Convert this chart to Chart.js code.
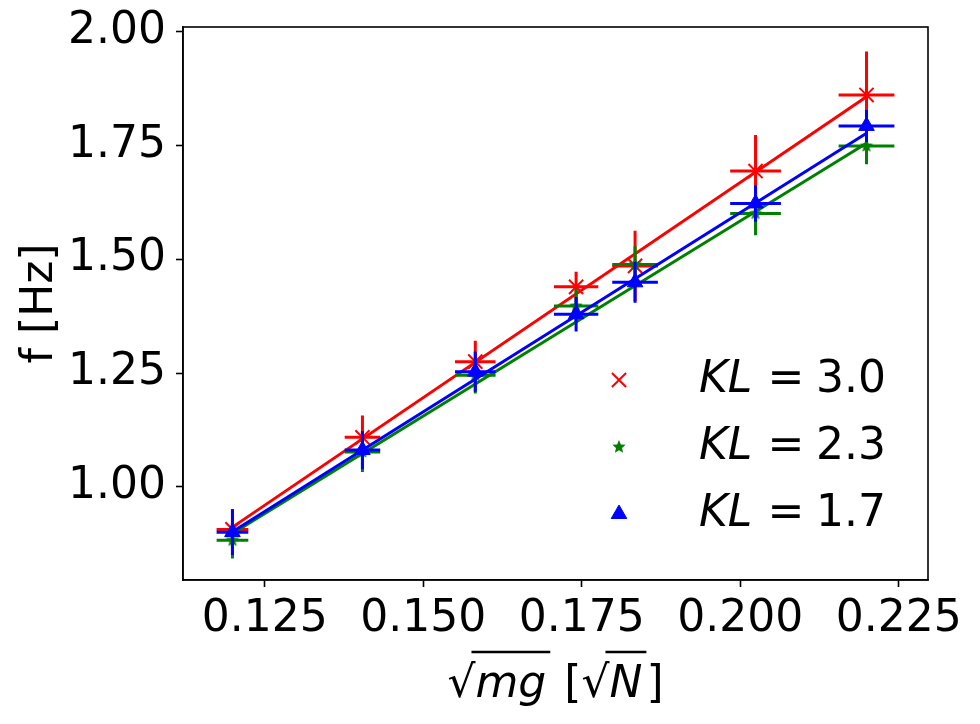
<!DOCTYPE html>
<html>
<head>
<meta charset="utf-8">
<script src="https://cdn.jsdelivr.net/npm/chart.js@4.4.1/dist/chart.umd.min.js"></script>
<style>
  body { margin: 0; background: #fff; }
  canvas { display: block; }
</style>
</head>
<body>
<canvas id="chart" width="980" height="724"></canvas>
<script>
// measured points, sqrt(mg) in sqrt(N)
const sqrtMg = [0.1199, 0.1404, 0.1582, 0.1741, 0.1834, 0.2024, 0.2199];
const xErr = [0.0025, 0.0028, 0.0032, 0.0035, 0.0036, 0.0040, 0.0044];

// frequency f [Hz] for each KL
const fKL30 = [0.907, 1.109, 1.275, 1.439, 1.485, 1.693, 1.860];
const fKL23 = [0.883, 1.077, 1.245, 1.397, 1.488, 1.600, 1.748];
const fKL17 = [0.901, 1.081, 1.253, 1.379, 1.449, 1.622, 1.792];
const errKL30 = [0.045, 0.048, 0.046, 0.033, 0.077, 0.079, 0.095];
const errKL23 = [0.040, 0.044, 0.040, 0.038, 0.040, 0.048, 0.040];
const errKL17 = [0.050, 0.042, 0.044, 0.038, 0.045, 0.040, 0.035];

// linear fit end points (at first and last sqrtMg)
const fitX = [0.1199, 0.2199];
const fitKL30 = [0.912, 1.856];
const fitKL23 = [0.898, 1.754];
const fitKL17 = [0.902, 1.776];

const legendLabels = ['3.0', '2.3', '1.7'];
const xTicks = [0.125, 0.150, 0.175, 0.200, 0.225];
const yTicks = [1.00, 1.25, 1.50, 1.75, 2.00];

const RED = '#ff0000', GREEN = '#008000', BLUE = '#0000ff';
const FONT = "'DejaVu Sans', sans-serif";

function starImage(color, r) {
    const c = document.createElement('canvas');
    c.width = c.height = 2 * r + 2;
    const g = c.getContext('2d');
    g.fillStyle = color;
    g.beginPath();
    for (let k = 0; k < 10; k++) {
        const a = -Math.PI / 2 + k * Math.PI / 5;
        const rr = k % 2 ? r * 0.45 : r;
        g.lineTo(r + 1 + rr * Math.cos(a), r + 1 + rr * Math.sin(a));
    }
    g.closePath();
    g.fill();
    return c;
}
const greenStar = starImage(GREEN, 7);

const toPoints = (xs, ys) => xs.map((x, i) => ({ x: x, y: ys[i] }));

const series = [
    { label: legendLabels[0], ys: fKL30, err: errKL30, fit: fitKL30, color: RED,
      point: { pointStyle: 'crossRot', pointRadius: 10, pointBorderWidth: 2 } },
    { label: legendLabels[1], ys: fKL23, err: errKL23, fit: fitKL23, color: GREEN,
      point: { pointStyle: greenStar, pointRadius: 7, pointBorderWidth: 0 } },
    { label: legendLabels[2], ys: fKL17, err: errKL17, fit: fitKL17, color: BLUE,
      point: { pointStyle: 'triangle', pointRadius: 9, pointBorderWidth: 1 } }
];

const datasets = [];
series.forEach((s, i) => {
    datasets.push(Object.assign({
        label: 'KL = ' + s.label,
        data: toPoints(sqrtMg, s.ys),
        xErr: xErr,
        yErr: s.err,
        showLine: false,
        borderColor: s.color,
        backgroundColor: s.color,
        order: 10 - 2 * i
    }, s.point));
    datasets.push({
        label: 'fit ' + s.label,
        data: toPoints(fitX, s.fit),
        showLine: true,
        pointRadius: 0,
        borderWidth: 3,
        borderColor: s.color,
        order: 9 - 2 * i
    });
});

// error bars under each marker set
const errorBars = {
    id: 'errorBars',
    beforeDatasetDraw(chart, args) {
        const ds = chart.data.datasets[args.index];
        if (!ds.yErr) return;
        const xs = chart.scales.x, ys = chart.scales.y;
        const ctx = chart.ctx;
        ctx.save();
        ctx.strokeStyle = ds.borderColor;
        ctx.lineWidth = 3;
        ds.data.forEach((p, i) => {
            const px = xs.getPixelForValue(p.x), py = ys.getPixelForValue(p.y);
            ctx.beginPath();
            ctx.moveTo(xs.getPixelForValue(p.x - ds.xErr[i]), py);
            ctx.lineTo(xs.getPixelForValue(p.x + ds.xErr[i]), py);
            ctx.moveTo(px, ys.getPixelForValue(p.y - ds.yErr[i]));
            ctx.lineTo(px, ys.getPixelForValue(p.y + ds.yErr[i]));
            ctx.stroke();
        });
        ctx.restore();
    }
};

// frame, legend and x title
const decorations = {
    id: 'decorations',
    afterDraw(chart) {
        const ctx = chart.ctx;
        const a = chart.chartArea;
        ctx.save();
        ctx.strokeStyle = '#000';
        ctx.lineWidth = 1.6;
        ctx.strokeRect(a.left, a.top, a.right - a.left, a.bottom - a.top);

        // legend
        const rows = [380, 447, 514];
        series.forEach((s, i) => {
            const y = rows[i];
            ctx.fillStyle = s.color;
            ctx.strokeStyle = s.color;
            ctx.lineWidth = s.point.pointBorderWidth || 1;
            Chart.helpers.drawPoint(ctx, {
                pointStyle: s.point.pointStyle,
                radius: s.point.pointRadius,
                borderWidth: s.point.pointBorderWidth,
                rotation: 0
            }, 619, y);
            ctx.fillStyle = '#000';
            ctx.textBaseline = 'middle';
            ctx.textAlign = 'left';
            ctx.font = 'italic 44px ' + FONT;
            ctx.fillText('KL', 699, y + 1);
            ctx.font = '44px ' + FONT;
            ctx.textAlign = 'center';
            ctx.fillText('=', 786, y + 1);
            ctx.textAlign = 'right';
            ctx.fillText(s.label, 886, y + 1);
        });

        // x axis title: sqrt(mg) [sqrt(N)]
        const parts = [
            { t: '\u221A', it: false },
            { t: 'mg', it: true, bar: true },
            { t: ' [', it: false },
            { t: '\u221A', it: false },
            { t: 'N', it: true, bar: true },
            { t: ']', it: false }
        ];
        let total = 0;
        parts.forEach(p => {
            ctx.font = (p.it ? 'italic ' : '') + '44px ' + FONT;
            p.w = ctx.measureText(p.t).width;
            total += p.w + (p.bar ? 4 : 0);
        });
        let x = (a.left + a.right) / 2 - total / 2;
        const base = 697;
        ctx.fillStyle = '#000';
        ctx.strokeStyle = '#000';
        ctx.lineWidth = 2.5;
        ctx.textAlign = 'left';
        ctx.textBaseline = 'alphabetic';
        parts.forEach(p => {
            ctx.font = (p.it ? 'italic ' : '') + '44px ' + FONT;
            ctx.fillText(p.t, x, base);
            if (p.bar) {
                ctx.beginPath();
                ctx.moveTo(x - 4, base - 45);
                ctx.lineTo(x + p.w + 4, base - 45);
                ctx.stroke();
                x += 4;
            }
            x += p.w;
        });
        ctx.restore();
    }
};

const ctx = document.getElementById('chart').getContext('2d');
new Chart(ctx, {
    type: 'scatter',
    data: { datasets: datasets },
    plugins: [errorBars, decorations],
    options: {
        responsive: false,
        animation: false,
        events: [],
        layout: { padding: { top: 27, right: 52, left: 0, bottom: 0 } },
        plugins: { legend: { display: false }, tooltip: { enabled: false } },
        scales: {
            x: {
                type: 'linear',
                min: 0.1121,
                max: 0.2296,
                afterBuildTicks: s => { s.ticks = xTicks.map(v => ({ value: v })); },
                afterFit: s => { s.height = 144; s.paddingLeft = 0; s.paddingRight = 0; },
                ticks: {
                    font: { family: FONT, size: 44 },
                    color: '#000',
                    padding: 6,
                    maxRotation: 0,
                    autoSkip: false,
                    callback: v => v.toFixed(3)
                },
                grid: { drawOnChartArea: false, tickLength: 7, tickColor: '#000', tickWidth: 1.6 },
                border: { color: '#000', width: 1.6 }
            },
            y: {
                type: 'linear',
                min: 0.796,
                max: 2.009,
                afterBuildTicks: s => { s.ticks = yTicks.map(v => ({ value: v })); },
                afterFit: s => { s.width = 183; s.paddingTop = 0; s.paddingBottom = 0; },
                ticks: {
                    font: { family: FONT, size: 44 },
                    color: '#000',
                    padding: 10,
                    callback: v => v.toFixed(2)
                },
                grid: { drawOnChartArea: false, tickLength: 7, tickColor: '#000', tickWidth: 1.6 },
                border: { color: '#000', width: 1.6 },
                title: {
                    display: true,
                    text: 'f [Hz]',
                    color: '#000',
                    font: { family: FONT, size: 44 },
                    padding: { top: 14, bottom: 0 }
                }
            }
        }
    }
});
</script>
</body>
</html>
